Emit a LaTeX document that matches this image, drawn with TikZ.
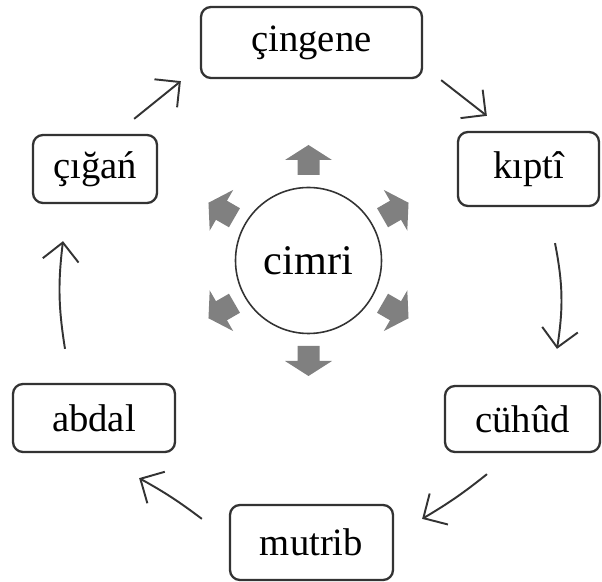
\documentclass[tikz,border=0pt]{standalone}
\usepackage{fontspec}
\setmainfont{Liberation Serif}
\usetikzlibrary{arrows.meta}
\definecolor{edgegray}{HTML}{333333}
\definecolor{raygray}{HTML}{808080}
\tikzset{
  box/.style={rectangle, draw=edgegray, line width=1.3pt, rounded corners=0.2cm, align=center, font=\fontsize{22}{26}\selectfont},
  hub/.style={circle, draw=edgegray, line width=0.9pt, minimum size=2.92cm, font=\fontsize{24}{28}\selectfont},
  link/.style={-{Straight Barb[length=0.36cm, width=0.72cm]}, line width=1.1pt, draw=edgegray},
  ray/.style={fill=raygray}
}

\begin{document}
\begin{tikzpicture}
  \useasboundingbox (-6.17,5.21) rectangle (5.87,-6.43);
  \node[hub] (cimri) at (0,0) {cimri};
  \node[box, minimum width=4.42cm, minimum height=1.42cm] (cingene) at (0.06,4.36) {çingene};
  \node[box, minimum width=2.82cm, minimum height=1.48cm] (kipti) at (4.40,1.83) {kıptî};
  \node[box, minimum width=3.10cm, minimum height=1.32cm] (cuhud) at (4.28,-3.17) {cühûd};
  \node[box, minimum width=3.26cm, minimum height=1.50cm] (mutrib) at (0.06,-5.64) {mutrib};
  \node[box, minimum width=3.24cm, minimum height=1.36cm] (abdal) at (-4.29,-3.15) {abdal};
  \node[box, minimum width=2.48cm, minimum height=1.36cm] (cigan) at (-4.27,1.83) {çığań};
  % gray arrows round the hub
  \foreach \a in {90,30,-30,-90,-150,150}
    \fill[ray, rotate=\a] (1.71,-0.22) -- (2.01,-0.22) -- (2.01,-0.47) -- (2.31,0)
      -- (2.01,0.47) -- (2.01,0.22) -- (1.71,0.22) -- cycle;
  % the ring
  \draw[link] ([xshift=-0.48cm, yshift=0.30cm]cigan.north east) -- ([xshift=-0.38cm, yshift=-0.04cm]cingene.south west);
  \draw[link] ([xshift=0.36cm, yshift=-0.02cm]cingene.south east) -- ([xshift=0.60cm, yshift=0.30cm]kipti.north west);
  \draw[link] ([xshift=0.53cm, yshift=-0.72cm]kipti.south) to[bend left=10] ([xshift=0.69cm, yshift=0.72cm]cuhud.north);
  \draw[link] ([xshift=-0.71cm, yshift=-0.42cm]cuhud.south) to[bend left=4] ([xshift=0.56cm, yshift=-0.30cm]mutrib.north east);
  \draw[link] ([xshift=-0.54cm, yshift=-0.30cm]mutrib.north west) to[bend right=4] ([xshift=-0.74cm, yshift=-0.50cm]abdal.south east);
  \draw[link] ([xshift=-0.58cm, yshift=0.68cm]abdal.north) to[bend left=8] ([xshift=-0.64cm, yshift=-0.74cm]cigan.south);
\end{tikzpicture}
\end{document}
